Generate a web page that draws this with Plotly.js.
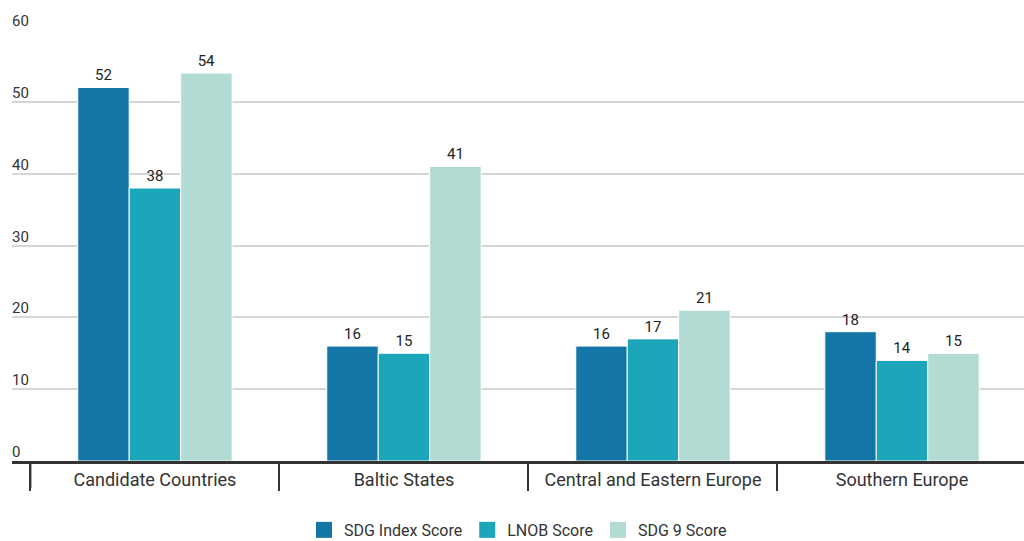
<!DOCTYPE html>
<html>
<head>
<meta charset="utf-8">
<script src="https://cdn.plot.ly/plotly-3.0.1.min.js"></script>
<style>html,body{margin:0;padding:0;background:#fff;}#chart{width:1024px;height:541px;}</style>
</head>
<body>
<div id="chart"></div>
<script>
const categories = ["Candidate Countries", "Baltic States", "Central and Eastern Europe", "Southern Europe"];
const sdgIndex = [52, 16, 16, 18];
const lnob = [38, 15, 17, 14];
const sdg9 = [54, 41, 21, 15];
const seriesNames = ["SDG Index Score", "LNOB Score", "SDG 9 Score"];
const colors = ["#1476a6", "#1ba6b9", "#b1dbd3"];
const yTicks = [0, 10, 20, 30, 40, 50, 60];

const values = [sdgIndex, lnob, sdg9];
const traces = values.map((v, i) => ({
  type: "bar",
  name: seriesNames[i],
  x: categories,
  y: v,
  text: v.map(String),
  textposition: "outside",
  cliponaxis: false,
  textfont: {family: "Roboto", size: 15, color: "#222"},
  marker: {color: colors[i], line: {color: "#fff", width: 1}},
  showlegend: false,
  hoverinfo: "skip"
}));
// legend entries with larger square swatches
seriesNames.forEach((n, i) => traces.push({
  type: "scatter", mode: "markers", name: n,
  x: [null], y: [null],
  marker: {symbol: "square", size: 19, color: colors[i]},
  showlegend: true, hoverinfo: "skip"
}));

const plotH = 541 - 30 - 80;
const annotations = yTicks.map(t => ({
  xref: "paper", yref: "y", x: 0, y: t, xanchor: "left", yanchor: "bottom",
  text: String(t), showarrow: false, yshift: -2, xshift: -2,
  font: {family: "Roboto", size: 15, color: "#333"}
}));

const layout = {
  width: 1024, height: 541,
  margin: {l: 12, r: 0, t: 30, b: 80, autoexpand: false},
  paper_bgcolor: "#fff", plot_bgcolor: "#fff",
  font: {family: "Roboto", color: "#333"},
  barmode: "group",
  bargap: 0.38,
  bargroupgap: 0,
  showlegend: true,
  legend: {orientation: "h", x: 0.5, xanchor: "center", y: -0.16, yanchor: "middle",
           font: {size: 16, color: "#333"}, traceorder: "normal"},
  annotations: annotations,
  shapes: [{type: "line", xref: "x", yref: "paper", x0: -0.5, x1: -0.5, y0: 0, y1: -27 / plotH,
            line: {color: "#333", width: 2}}],
  xaxis: {
    type: "category",
    range: [-0.574, 3.49],
    automargin: false,
    showline: true, linecolor: "#333", linewidth: 3,
    ticks: "outside", tickson: "boundaries", ticklen: 27, tickwidth: 2, tickcolor: "#333",
    tickfont: {size: 18, color: "#333"},
    ticklabelstandoff: 0,
    showgrid: false, zeroline: false, fixedrange: true
  },
  yaxis: {
    range: [0, 60],
    automargin: false,
    tickvals: yTicks,
    showticklabels: false,
    showgrid: true, gridcolor: "#d6d6d6", gridwidth: 2,
    zeroline: false, showline: false, ticks: "", fixedrange: true
  }
};

Plotly.newPlot("chart", traces, layout, {displayModeBar: false, staticPlot: true});
</script>
</body>
</html>
